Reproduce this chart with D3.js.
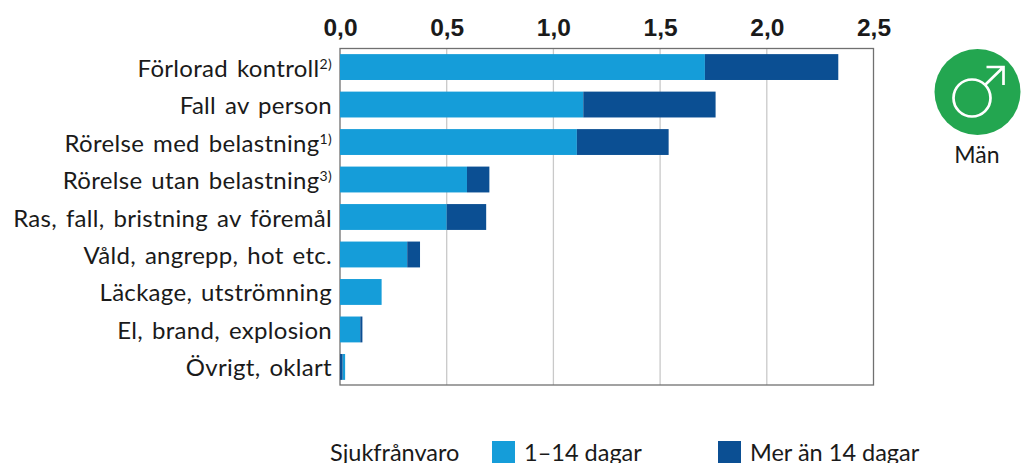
<!DOCTYPE html>
<html>
<head>
<meta charset="utf-8">
<script src="https://cdn.jsdelivr.net/npm/d3@7"></script>
<style>
html, body { margin: 0; padding: 0; background: #fff; }
svg { display: block; }
text { font-family: "Lato", sans-serif; fill: #1a1a1a; }
.tick-top { font-family: "Liberation Sans", sans-serif; font-weight: bold; font-size: 24.5px; }
.lbl { font-size: 24px; letter-spacing: 0.3px; word-spacing: 2.5px; }
.leg { font-size: 23.5px; }
</style>
</head>
<body>
<svg id="chart" width="1023" height="463"></svg>
<script>
var categories = ["Förlorad kontroll", "Fall av person", "Rörelse med belastning", "Rörelse utan belastning",
    "Ras, fall, bristning av föremål", "Våld, angrepp, hot etc.", "Läckage, utströmning", "El, brand, explosion", "Övrigt, oklart"]
var notes = ["2)", "", "1)", "3)", "", "", "", "", ""]
var kort = [1.71, 1.14, 1.11, 0.595, 0.50, 0.315, 0.195, 0.095, 0.012]
var lang = [0.625, 0.62, 0.43, 0.105, 0.185, 0.06, 0, 0.01, 0.012]
var langForst = ["Övrigt, oklart"] //här ligger den mörka delen först
var xTicks = [0, 0.5, 1, 1.5, 2, 2.5]
var serier = ["1–14 dagar", "Mer än 14 dagar"]
var farger = ["#159dd9", "#0b4f93"]

var svg = d3.select("#chart")

var x = d3.scaleLinear().domain([0, 2.5]).range([340, 873.5])
var y = d3.scaleBand().domain(categories).range([48.5, 385.5]).paddingInner(0.31).paddingOuter(0.15)

//stödlinjer
svg.selectAll("line.grid").data(xTicks.slice(1, -1)).enter().append("line")
    .attr("x1", d => x(d)).attr("x2", d => x(d))
    .attr("y1", 49).attr("y2", 385)
    .attr("stroke", "#c9c9c9").attr("stroke-width", 1.3)

svg.append("rect")
    .attr("x", x(0)).attr("y", 48.5)
    .attr("width", x(2.5) - x(0)).attr("height", 336.5)
    .attr("fill", "none").attr("stroke", "#707070").attr("stroke-width", 1.3)

var topAxis = d3.axisTop(x).tickValues(xTicks).tickSize(0).tickFormat(d => d3.format(".1f")(d).replace(".", ","))
svg.append("g").attr("transform", "translate(0,36)").call(topAxis)
    .call(g => g.select(".domain").remove())
    .selectAll("text").attr("class", "tick-top").attr("y", 0).attr("dy", 0)

//staplar
var rader = svg.selectAll("g.rad").data(categories).enter().append("g").attr("class", "rad")
rader.append("rect")
    .attr("x", (d, i) => langForst.includes(d) ? x(lang[i]) : x(0)).attr("y", d => y(d))
    .attr("width", (d, i) => x(kort[i]) - x(0)).attr("height", y.bandwidth())
    .attr("fill", farger[0])
rader.append("rect")
    .attr("x", (d, i) => langForst.includes(d) ? x(0) : x(kort[i])).attr("y", d => y(d))
    .attr("width", (d, i) => x(lang[i]) - x(0)).attr("height", y.bandwidth())
    .attr("fill", farger[1])

var etikett = rader.append("text").attr("class", "lbl")
    .attr("x", 332).attr("y", d => y(d) + y.bandwidth() / 2 + 9.5)
    .attr("text-anchor", "end")
etikett.append("tspan").text(d => d)
etikett.append("tspan").attr("dy", -8).style("font-size", "14px").text((d, i) => notes[i])

//symbol
var sym = svg.append("g").attr("transform", "translate(977.5,92)")
sym.append("circle").attr("r", 43).attr("fill", "#23a650")
sym.append("circle").attr("cx", -5.5).attr("cy", 6).attr("r", 18.5).attr("fill", "none").attr("stroke", "#fff").attr("stroke-width", 2.7)
sym.append("path").attr("d", "M8 -7.5 L 26 -25 M 9 -25 H 26 V -7").attr("fill", "none").attr("stroke", "#fff").attr("stroke-width", 2.7)
svg.append("text").attr("class", "leg").attr("x", 977).attr("y", 163).attr("text-anchor", "middle").style("font-size", "23px").text("Män")

//legend
svg.append("text").attr("class", "leg").attr("x", 330).attr("y", 461).text("Sjukfrånvaro")
var legX = [492, 718]
serier.forEach(function(s, i) {
    svg.append("rect").attr("x", legX[i]).attr("y", 441).attr("width", 23).attr("height", 23).attr("fill", farger[i])
    svg.append("text").attr("class", "leg").attr("x", legX[i] + 32).attr("y", 461).text(s)
})
</script>
</body>
</html>
